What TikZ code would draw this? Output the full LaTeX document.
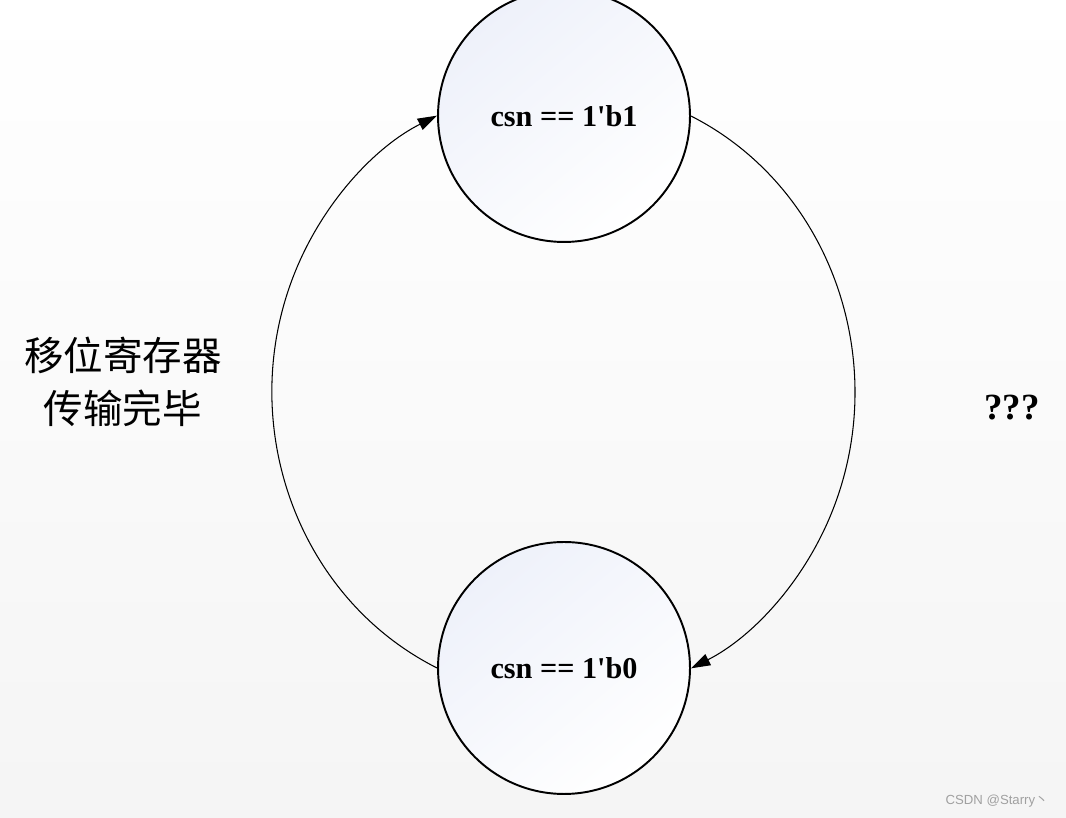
\documentclass[tikz,border=0pt]{standalone}
\usepackage{fontspec}
\setmainfont{Liberation Serif}
\newfontfamily\cjk{Noto Sans CJK SC}
\newfontfamily\wmfont{Liberation Sans}
\usetikzlibrary{arrows.meta}
\definecolor{statetint}{RGB}{238,241,250}
\definecolor{wmgray}{RGB}{160,160,160}
\tikzset{
  csnstate/.style={circle,draw,line width=1.1pt,minimum size=5.04cm,inner sep=0pt,
    top color=statetint,bottom color=white,shading angle=40,
    font=\bfseries\fontsize{17.2}{19}\selectfont},
  trans/.style={line width=0.6pt,-{Triangle[length=11pt,width=7pt]}},
  cjklabel/.style={align=center,font=\cjk\fontsize{22.5}{30}\selectfont},
  wmark/.style={text=wmgray,font=\wmfont\fontsize{7.5}{9}\selectfont}
}
\begin{document}
\begin{tikzpicture}[x=0.02cm,y=0.02cm]
\fill[top color=white,bottom color=black!4] (0,0) rectangle (1066,818);
\useasboundingbox (0,0) rectangle (1066,818);
% states
\node[csnstate] (b1) at (564,702) {csn == 1\textquotesingle b1};
\node[csnstate] (b0) at (564,150) {csn == 1\textquotesingle b0};
% transitions
\draw[trans] (b0.west) arc[start angle=244.5,end angle=115.5,x radius=290,y radius=306];
\draw[trans] (b1.east) arc[start angle=64.5,end angle=-64.5,x radius=288,y radius=306];
% labels
\node[cjklabel] (done) at (123,436) {移位寄存器\\传输完毕};
\node[font=\bfseries\fontsize{21}{24}\selectfont] (unknown) at (1012,410) {???};
\node[wmark] (csdn) at (997,17) {CSDN @Starry{\cjk 丶}};
\end{tikzpicture}
\end{document}
